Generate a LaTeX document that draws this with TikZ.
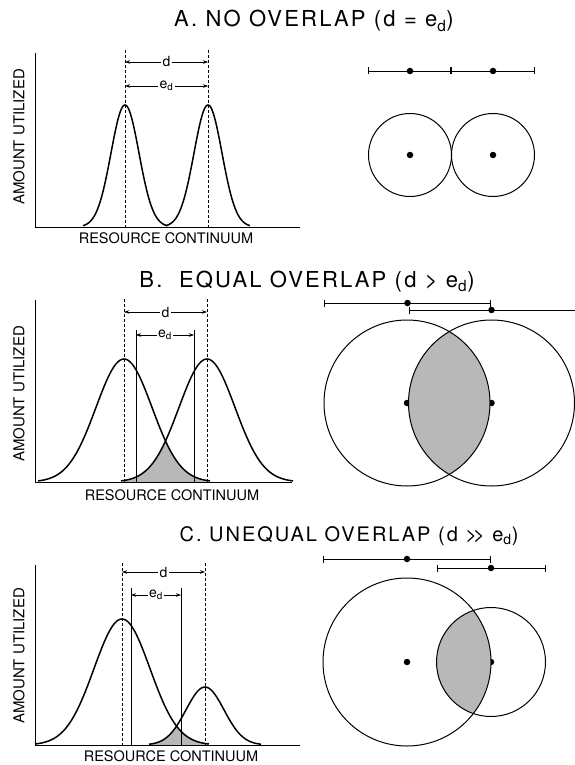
\documentclass[tikz,border=0pt]{standalone}
\usepackage{fontspec}
\setmainfont{TeX Gyre Heros}
\newfontfamily\titlefont[LetterSpace=10]{TeX Gyre Heros}
\usetikzlibrary{arrows.meta}

\newcommand\edsub{e\textsubscript{d}}

\tikzset{
  bell/.style={line width=1.5pt},
  axisline/.style={line width=0.8pt},
  guide/.style={dash pattern=on 3pt off 2pt, line width=0.5pt},
  edline/.style={line width=0.6pt},
  dimarrow/.style={{Stealth[length=5pt,width=3.5pt]}-{Stealth[length=5pt,width=3.5pt]}, line width=0.5pt},
  rangebar/.style={{Bar[width=7pt]}-{Bar[width=7pt]}, line width=0.6pt},
  halfbar/.style={{Bar[width=7pt]}-, line width=0.6pt},
  dot/.style={circle, fill, inner sep=0pt, minimum size=6.5pt},
  ring/.style={line width=1pt},
  shade/.style={fill=black!28},
  lbl/.style={font=\fontsize{14}{14}\selectfont, fill=white, inner sep=1.5pt},
  ptitle/.style={font=\titlefont\fontsize{22}{22}\selectfont, anchor=base},
  ylab/.style={font=\fontsize{15}{15}\selectfont, rotate=90},
  xlab/.style={font=\fontsize{14.5}{14.5}\selectfont},
}

\begin{document}
\begin{tikzpicture}[x=1pt,y=-1pt]
\useasboundingbox (0,0) rectangle (575,765);

% A. no overlap
\node[ptitle] (tA) at (314,27) {A. NO OVERLAP (d = \edsub)};
\draw[axisline] (35,53) -- (35,227) -- (300,227);
\node[ylab] (yA) at (19,137) {AMOUNT UTILIZED};
\node[xlab] (xA) at (166,238) {RESOURCE CONTINUUM};
\foreach \m in {125,208}{
  \draw[bell] plot[domain=-42:42, samples=85] ({\m+\x},{227-122*exp(-(\x*\x)/392)});
  \draw[guide] (\m,50) -- (\m,227);
}
\coordinate (dA1) at (125,62);
\coordinate (dA2) at (208,62);
\coordinate (eA1) at (125,86);
\coordinate (eA2) at (208,86);
\draw[dimarrow] (dA1) -- node[lbl] (dA) {d} (dA2);
\draw[dimarrow] (eA1) -- node[lbl] (eA) {\edsub} (eA2);

\node[dot] (rA1) at (410,71) {};
\node[dot] (rA2) at (493,71) {};
\coordinate (bA0) at (368,71);
\coordinate (bA1) at (451,71);
\coordinate (bA2) at (535,71);
\draw[rangebar] (bA0) -- (bA1);
\draw[rangebar] (bA1) -- (bA2);
\node[dot] (cA1) at (410,155) {};
\node[dot] (cA2) at (493,155) {};
\draw[ring] (cA1) circle[radius=41.5pt];
\draw[ring] (cA2) circle[radius=41.5pt];

% B. equal overlap
\node[ptitle] (tB) at (307,287) {B.\ \ EQUAL OVERLAP (d > \edsub)};
\fill[shade] plot[domain=-83:-41.5, samples=30] ({207+\x},{482-123*exp(-(\x*\x)/1568)})
  -- plot[domain=41.5:86, samples=30] ({124+\x},{482-123*exp(-(\x*\x)/1568)})
  -- (210,482) -- (124,482) -- cycle;
\draw[axisline] (35,300) -- (35,482) -- (292,482);
\node[ylab] (yB) at (19,394) {AMOUNT UTILIZED};
\node[xlab] (xB) at (172,495) {RESOURCE CONTINUUM};
\foreach \m in {124,207}{
  \draw[bell] plot[domain=-86:86, samples=87] ({\m+\x},{482-123*exp(-(\x*\x)/1568)});
  \draw[guide] (\m,299) -- (\m,482);
}
\foreach \m in {136,194}{
  \draw[edline] (\m,330) -- (\m,482);
}
\coordinate (dB1) at (124,312);
\coordinate (dB2) at (207,312);
\coordinate (eB1) at (136,335);
\coordinate (eB2) at (194,335);
\draw[dimarrow] (dB1) -- node[lbl] (dB) {d} (dB2);
\draw[dimarrow] (eB1) -- node[lbl] (eB) {\edsub} (eB2);

\node[dot] (rB1) at (407.5,303) {};
\node[dot] (rB2) at (491.5,310) {};
\coordinate (bB1) at (324,303);
\coordinate (bB2) at (491,303);
\coordinate (bB3) at (409,310);
\coordinate (bB4) at (575,310);
\draw[rangebar] (bB1) -- (bB2);
\draw[halfbar] (bB3) -- (bB4);
\node[dot] (cB1) at (407,403) {};
\node[dot] (cB2) at (491.5,403) {};
\begin{scope}
  \clip (cB1) circle[radius=83pt];
  \fill[shade] (cB2) circle[radius=83pt];
\end{scope}
\draw[ring] (cB1) circle[radius=83pt];
\draw[ring] (cB2) circle[radius=83pt];

% C. unequal overlap
\node[ptitle, font=\titlefont\fontsize{20}{20}\selectfont] (tC) at (349,541) {C. UNEQUAL OVERLAP (d >\kern-4pt> \edsub)};
\fill[shade] plot[domain=-55:-29.5, samples=30] ({205+\x},{745-58*exp(-(\x*\x)/722)})
  -- plot[domain=53.5:86, samples=30] ({122+\x},{745-126*exp(-(\x*\x)/1568)})
  -- (208,745) -- (150,745) -- cycle;
\draw[axisline] (35,565) -- (35,745) -- (300,745);
\node[ylab] (yC) at (19,656) {AMOUNT UTILIZED};
\node[xlab] (xC) at (171,756) {RESOURCE CONTINUUM};
\draw[bell] plot[domain=-87:87, samples=87] ({122+\x},{745-126*exp(-(\x*\x)/1568)});
\draw[bell] plot[domain=-56:56, samples=57] ({205+\x},{745-58*exp(-(\x*\x)/722)});
\foreach \m in {122,205}{
  \draw[guide] (\m,563) -- (\m,745);
}
\foreach \m in {131,181}{
  \draw[edline] (\m,588) -- (\m,745);
}
\coordinate (dC1) at (122,572);
\coordinate (dC2) at (205,572);
\coordinate (eC1) at (131,595);
\coordinate (eC2) at (181,595);
\draw[dimarrow] (dC1) -- node[lbl] (dC) {d} (dC2);
\draw[dimarrow] (eC1) -- node[lbl] (eC) {\edsub} (eC2);

\node[dot] (rC1) at (407,559) {};
\node[dot] (rC2) at (491,568) {};
\coordinate (bC1) at (323,559);
\coordinate (bC2) at (491,559);
\coordinate (bC3) at (437,568);
\coordinate (bC4) at (546,568);
\draw[rangebar] (bC1) -- (bC2);
\draw[rangebar] (bC3) -- (bC4);
\node[dot] (cC1) at (407,662) {};
\node[dot] (cC2) at (491,662) {};
\begin{scope}
  \clip (cC1) circle[radius=84pt];
  \fill[shade] (cC2) circle[radius=54.5pt];
\end{scope}
\draw[ring] (cC1) circle[radius=84pt];
\draw[ring] (cC2) circle[radius=54.5pt];
\end{tikzpicture}
\end{document}
